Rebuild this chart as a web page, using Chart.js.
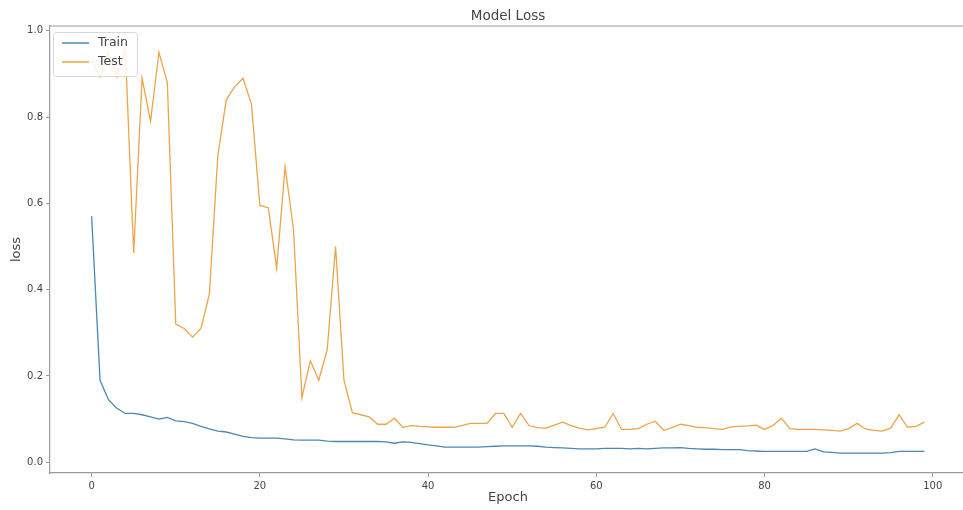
<!DOCTYPE html>
<html>
<head>
<meta charset="utf-8">
<title>Model Loss</title>
<script src="https://cdn.jsdelivr.net/npm/chart.js@4.4.0/dist/chart.umd.min.js"></script>
<style>
    html, body { margin: 0; padding: 0; background: #fff; overflow: hidden; }
    #lossChart { display: block; }
</style>
</head>
<body>
<canvas id="lossChart" width="970" height="510"></canvas>
<script>
// data
const epochs = Array.from({ length: 100 }, (_, i) => i);

const trainLoss = [
    0.57, 0.19, 0.145, 0.125, 0.113, 0.113, 0.11, 0.105, 0.1, 0.104,
    0.096, 0.094, 0.09, 0.083, 0.077, 0.072, 0.07, 0.065, 0.06, 0.057,
    0.056, 0.056, 0.056, 0.054, 0.052, 0.051, 0.051, 0.051, 0.049, 0.048,
    0.048, 0.048, 0.048, 0.048, 0.048, 0.047, 0.044, 0.047, 0.046, 0.043,
    0.04, 0.038, 0.035, 0.035, 0.035, 0.035, 0.035, 0.036, 0.037, 0.038,
    0.038, 0.038, 0.038, 0.037, 0.035, 0.034, 0.033, 0.032, 0.031, 0.031,
    0.031, 0.032, 0.032, 0.032, 0.031, 0.032, 0.031, 0.032, 0.033, 0.033,
    0.034, 0.032, 0.031, 0.03, 0.03, 0.029, 0.029, 0.029, 0.027, 0.026,
    0.025, 0.025, 0.025, 0.025, 0.025, 0.025, 0.031, 0.024, 0.023, 0.021,
    0.021, 0.021, 0.021, 0.021, 0.021, 0.022, 0.025, 0.025, 0.025, 0.025
];

const testLoss = [
    0.93, 0.893, 0.95, 0.893, 0.96, 0.485, 0.89, 0.79, 0.95, 0.88,
    0.32, 0.31, 0.29, 0.31, 0.39, 0.71, 0.84, 0.87, 0.89, 0.83,
    0.595, 0.59, 0.45, 0.685, 0.54, 0.15, 0.235, 0.19, 0.26, 0.5,
    0.19, 0.115, 0.11, 0.105, 0.088, 0.088, 0.102, 0.081, 0.085, 0.083,
    0.082, 0.081, 0.081, 0.081, 0.085, 0.09, 0.09, 0.09, 0.113, 0.113,
    0.081, 0.113, 0.085, 0.08, 0.079, 0.086, 0.093, 0.085, 0.079, 0.075,
    0.078, 0.081, 0.113, 0.076, 0.076, 0.078, 0.088, 0.095, 0.074, 0.08,
    0.088, 0.085, 0.081, 0.08, 0.078, 0.076, 0.082, 0.083, 0.084, 0.086,
    0.076, 0.085, 0.102, 0.078, 0.076, 0.076, 0.076, 0.075, 0.074, 0.072,
    0.078, 0.09, 0.077, 0.074, 0.072, 0.079, 0.11, 0.081, 0.083, 0.093
];

const xTicks = [0, 20, 40, 60, 80, 100];
const yTicks = [0.0, 0.2, 0.4, 0.6, 0.8, 1.0];

const FONT = 'DejaVu Sans';
const AXIS_COLOR = '#9a9a9a';
const TEXT_COLOR = '#444';

// khung trên + phải (spines)
const frameBox = {
    id: 'frameBox',
    afterDraw(chart) {
        const { ctx, chartArea: a } = chart;
        ctx.save();
        ctx.strokeStyle = AXIS_COLOR;
        ctx.lineWidth = 1.2;
        ctx.beginPath();
        ctx.moveTo(a.left, a.top);
        ctx.lineTo(a.right, a.top);
        ctx.lineTo(a.right, a.bottom);
        ctx.stroke();
        ctx.restore();
    }
};

// legend góc trên trái trong vùng vẽ
const innerLegend = {
    id: 'innerLegend',
    afterDatasetsDraw(chart) {
        const { ctx, chartArea: a } = chart;
        const x0 = a.left + 3, y0 = a.top + 6;
        const w = 84, h = 44;
        ctx.save();
        ctx.fillStyle = 'rgba(255,255,255,0.85)';
        ctx.strokeStyle = '#d8d8d8';
        ctx.lineWidth = 1;
        ctx.beginPath();
        ctx.roundRect(x0 + 0.5, y0 + 0.5, w, h, 3);
        ctx.fill();
        ctx.stroke();
        ctx.font = '12.5px ' + FONT;
        ctx.textBaseline = 'middle';
        chart.data.datasets.forEach((ds, i) => {
            const y = y0 + 11 + i * 19;
            ctx.strokeStyle = ds.borderColor;
            ctx.lineWidth = 1.5;
            ctx.beginPath();
            ctx.moveTo(x0 + 9, y);
            ctx.lineTo(x0 + 36, y);
            ctx.stroke();
            ctx.fillStyle = TEXT_COLOR;
            ctx.fillText(ds.label, x0 + 45, y);
        });
        ctx.restore();
    }
};

const chartData = {
    labels: epochs,
    datasets: [
        {
            label: 'Train',
            data: trainLoss,
            borderColor: '#4a88b3',
            borderWidth: 1.3,
            pointRadius: 0,
            tension: 0,
            order: 1
        },
        {
            label: 'Test',
            data: testLoss,
            borderColor: '#eda449',
            borderWidth: 1.3,
            pointRadius: 0,
            tension: 0,
            order: 0
        }
    ]
};

const config = {
    type: 'line',
    data: chartData,
    options: {
        responsive: false,
        animation: false,
        devicePixelRatio: 1,
        layout: { padding: { left: 0, right: 4, top: 0, bottom: 0 } },
        plugins: {
            legend: { display: false },
            tooltip: { enabled: false },
            title: {
                display: true,
                text: 'Model Loss',
                fullSize: false,
                color: TEXT_COLOR,
                font: { family: FONT, size: 13.5, weight: 'normal', lineHeight: 1.2 },
                padding: { top: 8, bottom: 1.8 }
            }
        },
        scales: {
            x: {
                type: 'linear',
                min: -4.95,
                max: 103.95,
                afterBuildTicks: s => { s.ticks = xTicks.map(v => ({ value: v })); },
                afterFit: s => { s.height = 37; },
                ticks: {
                    color: TEXT_COLOR,
                    font: { family: FONT, size: 10 },
                    padding: 3,
                    maxRotation: 0,
                    callback: v => String(v)
                },
                grid: { drawOnChartArea: false, drawTicks: true, tickLength: 4, color: AXIS_COLOR, lineWidth: 1 },
                border: { display: true, color: AXIS_COLOR, width: 1.2 },
                title: {
                    display: true,
                    text: 'Epoch',
                    color: TEXT_COLOR,
                    font: { family: FONT, size: 13 },
                    padding: { top: 0, bottom: 4.2 }
                }
            },
            y: {
                type: 'linear',
                min: -0.025,
                max: 1.011,
                afterBuildTicks: s => { s.ticks = yTicks.map(v => ({ value: v })); },
                afterFit: s => { s.width = 50; },
                ticks: {
                    color: TEXT_COLOR,
                    font: { family: FONT, size: 10 },
                    padding: 3,
                    callback: v => Number(v).toFixed(1)
                },
                grid: { drawOnChartArea: false, drawTicks: true, tickLength: 4, color: AXIS_COLOR, lineWidth: 1 },
                border: { display: true, color: AXIS_COLOR, width: 1.2 },
                title: {
                    display: true,
                    text: 'loss',
                    color: TEXT_COLOR,
                    font: { family: FONT, size: 13 },
                    padding: { top: 8.5, bottom: 0 }
                }
            }
        }
    },
    plugins: [frameBox, innerLegend]
};

const ctx = document.getElementById('lossChart').getContext('2d');
const lossChart = new Chart(ctx, config);
</script>
</body>
</html>
